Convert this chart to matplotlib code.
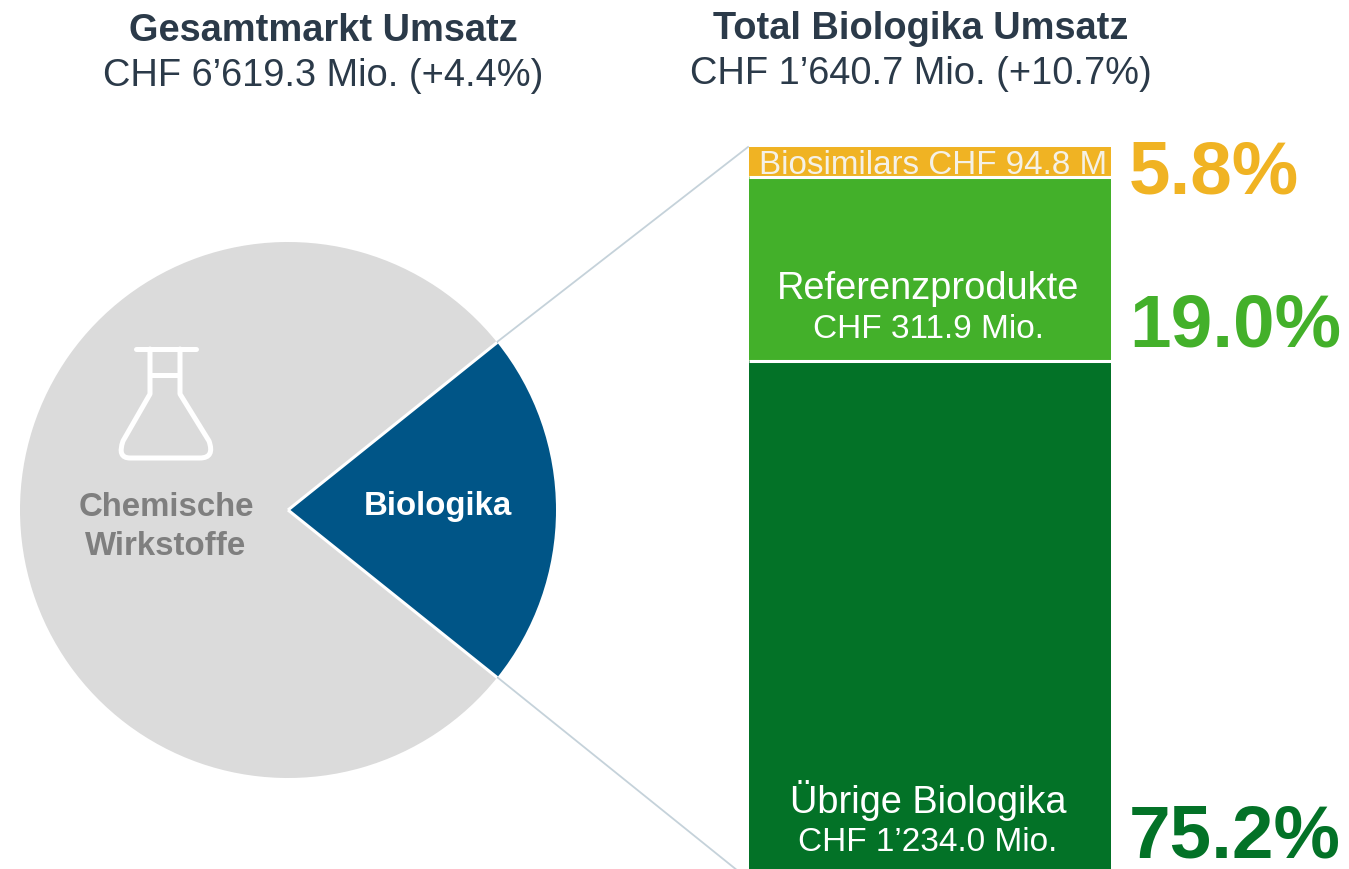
import matplotlib
matplotlib.use("Agg")
import matplotlib.pyplot as plt
import numpy as np
from matplotlib.patches import Wedge, Rectangle, PathPatch
from matplotlib.path import Path

plt.rcParams['font.family'] = ['Liberation Sans', 'DejaVu Sans']

W, H = 1349, 870
pie_labels = ["Biologika", "Chemische\nWirkstoffe"]
# shares as drawn in the picture (percent of the circle)
pie_values = [21.5, 78.5]
pie_colors = ["#005587", "#DBDBDB"]

stack_labels = ["Übrige Biologika", "Referenzprodukte", "Biosimilars CHF 94.8 M"]
stack_subs = ["CHF 1’234.0 Mio.", "CHF 311.9 Mio.", ""]
# segment sizes as drawn in the picture (bottom segment runs past the image edge)
stack_values = [510, 184, 30]
stack_pcts = ["75.2%", "19.0%", "5.8%"]
stack_colors = ["#037227", "#43B02A", "#F0B323"]
dark = "#2B3A49"

fig = plt.figure(figsize=(W/100, H/100), dpi=100)
ax = fig.add_axes([0, 0, 1, 1])
ax.set_xlim(0, W)
ax.set_ylim(H, 0)
ax.axis("off")

# pie
cx, cy, r = 288, 511, 268
share = pie_values[0] / sum(pie_values) * 360
a0, a1 = -share / 2, share / 2
ax.add_patch(Wedge((cx, cy), r, a1, a0 + 360, fc=pie_colors[1], ec="none"))
ax.add_patch(Wedge((cx, cy), r, a0, a1, fc=pie_colors[0], ec="none"))
for a in (a0, a1):
    ax.plot([cx, cx + r * np.cos(np.radians(a))], [cy, cy + r * np.sin(np.radians(a))],
            color="white", lw=2.2, solid_capstyle="butt")
ax.text(438, 506, pie_labels[0], color="white", fontsize=23.8, fontweight="bold", ha="center", va="center")
ax.text(166, 507, pie_labels[1].split("\n")[0], color="#7F7F7F", fontsize=23.8, fontweight="bold", ha="center", va="center")
ax.text(166, 547, pie_labels[1].split("\n")[1], color="#7F7F7F", fontsize=23.8, fontweight="bold", ha="center", va="center")

# flask icon
ic = dict(color="white", lw=3.6, solid_capstyle="round", solid_joinstyle="round")
ax.plot([136, 196], [350, 350], **ic)
ax.plot([150, 180], [376, 376], color="white", lw=3.6, solid_capstyle="butt")
flask = Path(
    [(150, 350), (150, 395), (123, 442), (117, 459), (130, 459), (200, 459), (215, 459), (209, 442), (180, 395), (180, 350)],
    [Path.MOVETO, Path.LINETO, Path.LINETO, Path.CURVE3, Path.CURVE3, Path.LINETO, Path.CURVE3, Path.CURVE3, Path.LINETO, Path.LINETO],
)
ax.add_patch(PathPatch(flask, fc="none", ec="white", lw=3.6, capstyle="round", joinstyle="round"))

# stacked bar
bx0, bx1 = 748.5, 1110.5
top = 148
y = top + sum(stack_values)
for v, c in zip(stack_values, stack_colors):
    ax.add_patch(Rectangle((bx0, y - v), bx1 - bx0, v, fc=c, ec="none"))
    ax.plot([bx0, bx1], [y - v, y - v], color="white", lw=2.2, solid_capstyle="butt") if y - v > top else None
    y -= v

# connectors
ax.plot([497, 748], [343, 148], color="#C5D2DA", lw=1.3, zorder=0)
ax.plot([497, 748], [678, 880], color="#C5D2DA", lw=1.3, zorder=0)

# stack text
ax.text(928, 289, stack_labels[1], color="white", fontsize=27.4, ha="center", va="center")
ax.text(928, 330, stack_subs[1], color="white", fontsize=24, ha="center", va="center")
ax.text(928, 801, stack_labels[0], color="white", fontsize=27.4, ha="center", va="center")
ax.text(928, 843, stack_subs[0], color="white", fontsize=24, ha="center", va="center")
ax.text(933, 165, stack_labels[2], color="#F5F1E6", fontsize=23.9, ha="center", va="center")

# percentages
ax.text(1129, 174, stack_pcts[2], color=stack_colors[2], fontsize=53.8, fontweight="bold", ha="left", va="center")
ax.text(1129, 327, stack_pcts[1], color=stack_colors[1], fontsize=53.8, fontweight="bold", ha="left", va="center")
ax.text(1129, 838, stack_pcts[0], color=stack_colors[0], fontsize=53.8, fontweight="bold", ha="left", va="center")

# titles
ax.text(323, 31, "Gesamtmarkt Umsatz", color=dark, fontsize=27.4, fontweight="bold", ha="center", va="center")
ax.text(323, 76, "CHF 6’619.3 Mio. (+4.4%)", color=dark, fontsize=27.4, ha="center", va="center")
ax.text(921, 29, "Total Biologika Umsatz", color=dark, fontsize=27.4, fontweight="bold", ha="center", va="center")
ax.text(921, 74, "CHF 1’640.7 Mio. (+10.7%)", color=dark, fontsize=27.4, ha="center", va="center")

fig.savefig("out.png", dpi=100)
